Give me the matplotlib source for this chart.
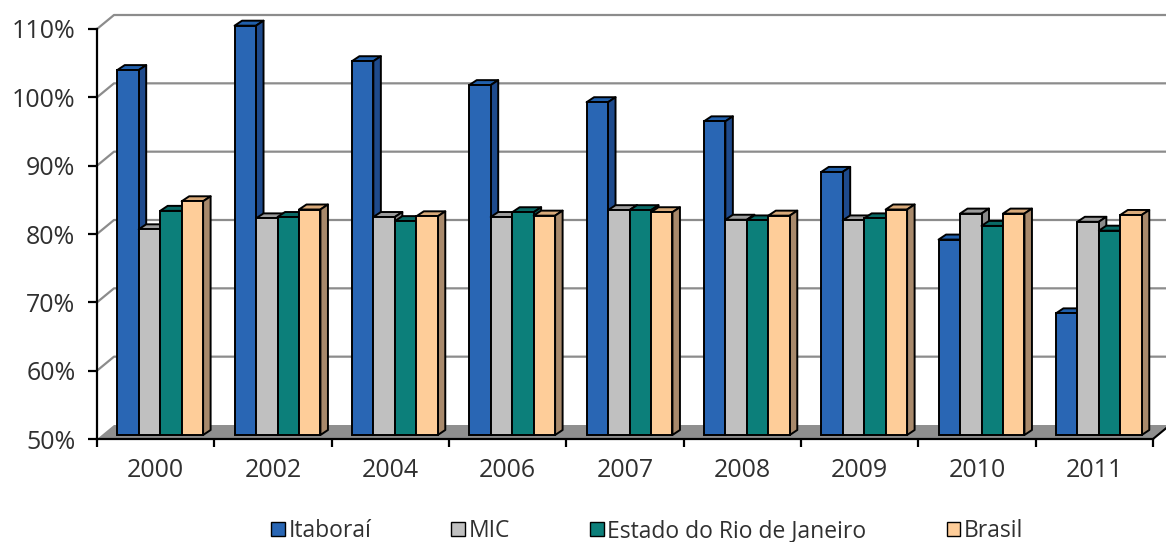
import matplotlib
matplotlib.use("Agg")
import matplotlib.pyplot as plt
from matplotlib.patches import Polygon, Patch
from matplotlib.lines import Line2D
from matplotlib.transforms import IdentityTransform, offset_copy
import numpy as np

# ---- data -------------------------------------------------------------
years = ["2000", "2002", "2004", "2006", "2007", "2008", "2009", "2010", "2011"]
itaborai = [103.4, 109.9, 104.7, 101.2, 98.7, 95.9, 88.5, 78.6, 67.8]
mic = [80.1, 81.7, 81.9, 81.9, 82.9, 81.5, 81.4, 82.4, 81.2]
estado_rj = [82.8, 81.9, 81.3, 82.6, 82.9, 81.4, 81.7, 80.6, 79.9]
brasil = [84.2, 83.0, 82.0, 82.1, 82.6, 82.1, 83.0, 82.4, 82.2]
series_names = ["Itaboraí", "MIC", "Estado do Rio de Janeiro", "Brasil"]
y_ticks = [50, 60, 70, 80, 90, 100, 110]

series = [itaborai, mic, estado_rj, brasil]
# front, top and side shades for each series
front_colors = ["#2966B4", "#C0C0C0", "#0C7F7A", "#FECD99"]
top_colors = ["#2160AC", "#9C9C9C", "#096A66", "#D9AA7A"]
side_colors = ["#1E4A8C", "#8A8A8A", "#075C58", "#A8896B"]

plt.rcParams["font.family"] = ["Open Sans", "DejaVu Sans"]
TEXT = "#303030"

W, H = 1166, 542
fig = plt.figure(figsize=(W / 100, H / 100), dpi=100)
fig.patch.set_facecolor("white")
ax = fig.add_axes([97 / W, (H - 439) / H, (1153 - 97) / W, (439 - 29) / H])
ax.set_xlim(-0.5, len(years) - 0.5)
ax.set_ylim(y_ticks[0], y_ticks[-1])
ax.set_facecolor("none")

# depth vectors in pixels
WALL = np.array([17.0, 14.0])    # back wall offset
INSET = np.array([4.5, 4.0])     # bars sit slightly behind the front plane
DEPTH = np.array([7.5, 5.0])     # bar thickness

ident = IdentityTransform()
to_px = ax.transData.transform
base = y_ticks[0]
x_lo, x_hi = -0.5, len(years) - 0.5

# back wall gridlines with their side-wall diagonals
for v in y_ticks[1:]:
    p = to_px((x_lo, v))
    r = to_px((x_hi, v))
    pts = np.array([p, p + WALL, r + WALL])
    ax.add_line(Line2D(pts[:, 0], pts[:, 1], transform=ident, color="#8C8C8C",
                       lw=1.6, zorder=1, clip_on=False))

# floor
fl, fr = to_px((x_lo, base)), to_px((x_hi, base))
ax.add_patch(Polygon([fl, fr, fr + WALL, fl + WALL], closed=True, transform=ident,
                     facecolor="#8F8F8F", edgecolor="none", zorder=1.5, clip_on=False))
ax.add_line(Line2D([fr[0], fr[0] + WALL[0]], [fr[1], fr[1] + WALL[1]],
                   transform=ident, color="black", lw=1.5, zorder=1.6, clip_on=False))

# bars: front faces through ax.bar, top and side faces derived from the same values
bw = 0.183
x = np.arange(len(years))
front_tr = offset_copy(ax.transData, fig=fig, x=INSET[0], y=INSET[1], units="dots")
for i, vals in enumerate(series):
    xs = x + (i - 1.5) * bw
    vals = np.asarray(vals)
    z = 3 + 0.1 * i
    ax.bar(xs, vals - base, bottom=base, width=bw, color=front_colors[i],
           edgecolor="black", linewidth=1.4, transform=front_tr, clip_on=False,
           zorder=z + 0.02)
    for xc, v in zip(xs, vals):
        bl = to_px((xc - bw / 2, base)) + INSET
        tr = to_px((xc + bw / 2, v)) + INSET
        x0, y0, x1, y1 = bl[0], bl[1], tr[0], tr[1]
        dx, dy = DEPTH
        top = [(x0, y1), (x1, y1), (x1 + dx, y1 + dy), (x0 + dx, y1 + dy)]
        side = [(x1, y0), (x1, y1), (x1 + dx, y1 + dy), (x1 + dx, y0 + dy)]
        ax.add_patch(Polygon(top, closed=True, transform=ident, facecolor=top_colors[i],
                             edgecolor="black", lw=1.4, joinstyle="round", zorder=z,
                             clip_on=False))
        ax.add_patch(Polygon(side, closed=True, transform=ident, facecolor=side_colors[i],
                             edgecolor="black", lw=1.4, joinstyle="round", zorder=z + 0.01,
                             clip_on=False))

# axes lines and ticks
for s in ["top", "right"]:
    ax.spines[s].set_visible(False)
for s in ["left", "bottom"]:
    ax.spines[s].set_color("black")
    ax.spines[s].set_linewidth(1.6)
    ax.spines[s].set_zorder(10)

ax.set_yticks(y_ticks)
ax.set_yticklabels([f"{v}%" for v in y_ticks])
ax.tick_params(axis="y", length=6.5, width=1.6, pad=9, labelsize=18, labelcolor=TEXT)

ax.set_xticks(np.arange(x_lo, x_hi + 0.01, 1.0))
ax.set_xticklabels([])
ax.set_xticks(x, minor=True)
ax.set_xticklabels(years, minor=True)
ax.tick_params(axis="x", which="major", length=6, width=1.6)
ax.tick_params(axis="x", which="minor", length=0, pad=14, labelsize=18, labelcolor=TEXT)

# legend
handles = [Patch(facecolor=c, edgecolor="black", lw=1.0) for c in front_colors]
fig.legend(handles, series_names, loc="center", bbox_to_anchor=(0.555, 11 / H), ncol=4,
           frameon=False, fontsize=16.5, handlelength=0.6, handleheight=0.6,
           handletextpad=0.15, columnspacing=3.5, labelcolor=TEXT)

fig.savefig("out.png", dpi=100, facecolor="white")
